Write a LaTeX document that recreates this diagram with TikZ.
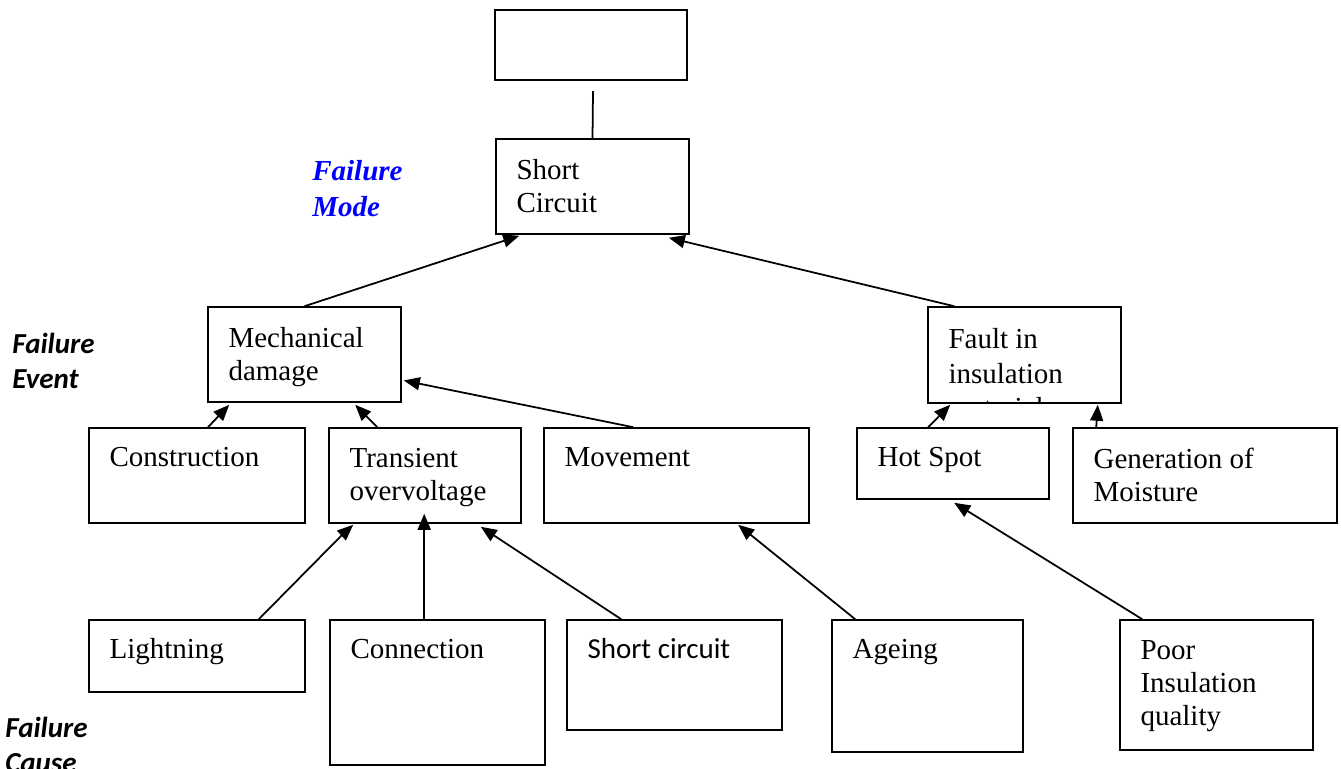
\documentclass[tikz,border=0pt]{standalone}
\usepackage{fontspec}
\setmainfont{Liberation Serif}
\newfontfamily\calibri{Carlito}
\usetikzlibrary{arrows.meta}

\tikzset{
  box/.style={draw, line width=0.9pt, inner sep=0pt},
  sz/.style 2 args={minimum width=#1*0.02cm, minimum height=#2*0.02cm},
  txt/.style={anchor=north west, inner sep=0pt, align=left, xshift=0.42cm, yshift=-0.311cm,
    execute at begin node=\strut, font=\fontsize{16.5}{19}\selectfont},
  txtm/.style={txt, yshift=-0.1cm}, % several lines sit a little higher
  arr/.style={line width=1pt, -{Triangle[length=0.32cm, width=0.26cm]}},
  level/.style={anchor=north west, inner sep=0pt, align=left, execute at begin node=\strut,
    font=\fontsize{16.5}{20}\selectfont\bfseries\itshape},
  calev/.style={level, font=\calibri\fontsize{16.5}{20}\selectfont\bfseries\itshape},
}

\begin{document}
\begin{tikzpicture}[x=0.02cm, y=-0.02cm]
  \clip (0,0) rectangle (1341,768);

  % level names
  \node[level, text=blue] (lmode) at (312,160.5) {Failure\\Mode};
  \node[calev] (levent) at (12,332.5) {Failure\\Event};
  \node[calev] (lcause) at (5,716.5) {Failure\\Cause};

  % top of the tree
  \node[box, sz={192}{70}] (top) at (591,45) {};
  \node[box, sz={193}{95}, label={[txtm]north west:Short\\Circuit}] (sc) at (592.5,186.5) {};
  \coordinate (sc-up) at (593,91);

  % failure events
  \node[box, sz={193}{95}, label={[txtm]north west:Mechanical\\damage}] (mech) at (304.5,354.5) {};
  \node[box, sz={193}{96}] (fault) at (1024.5,355) {};
  \begin{scope}
    \clip (fault.north west) rectangle (fault.south east); % third line is cut off
    \node[txtm, yshift=-0.02cm, font=\fontsize{16.5}{19.8}\selectfont] (fault-t) at (fault.north west) {Fault in\\insulation\\material};
  \end{scope}

  % second row
  \node[box, sz={216}{95}, label={[txt]north west:Construction}] (cons) at (197,475.5) {};
  \node[box, sz={192}{95}, label={[txtm]north west:Transient\\overvoltage}] (trans) at (425,475.5) {};
  \node[box, sz={265}{95}, label={[txt]north west:Movement}] (move) at (676.5,475.5) {};
  \node[box, sz={192}{71}, label={[txt]north west:Hot Spot}] (hot) at (953,463.5) {};
  \node[box, sz={264}{95}, label={[txtm]north west:Generation of\\Moisture}] (moist) at (1205,475.5) {};

  % failure causes
  \node[box, sz={216}{72}, label={[txt]north west:Lightning}] (light) at (197,656) {};
  \node[box, sz={215}{145}, label={[txt]north west:Connection}] (conn) at (437.5,692.5) {};
  \node[box, sz={215}{110}, label={[txt, font=\calibri\fontsize{16.5}{19}\selectfont]north west:Short circuit}] (shortc) at (674.5,675) {};
  \node[box, sz={191}{132}, label={[txt]north west:Ageing}] (age) at (927.5,686) {};
  \node[box, sz={193}{130}, label={[txtm]north west:Poor\\Insulation\\quality}] (poor) at (1216.5,685) {};

  % connectors
  \draw[line width=1pt] (sc.north) -- (sc-up);
  \draw[arr] (mech.north) -- ([shift={(24,1)}]sc.south west);
  \draw[arr] ([shift={(27,0)}]fault.north west) -- ([shift={(-21,3)}]sc.south east);
  \draw[arr] ([shift={(11,0)}]cons.north) -- ([shift={(22,2)}]mech.south west);
  \draw[arr] ([shift={(49,0)}]trans.north west) -- ([shift={(148,2)}]mech.south west);
  \draw[arr] ([shift={(90,0)}]move.north west) -- ([shift={(2,26)}]mech.east);
  \draw[arr] ([shift={(72,0)}]hot.north west) -- ([shift={(23,1)}]fault.south west);
  \draw[arr] ([shift={(24,0)}]moist.north west) -- ([shift={(-24,1)}]fault.south east);
  \draw[arr] ([shift={(-47,0)}]light.north east) -- ([shift={(25,1)}]trans.south west);
  \draw[arr] ([shift={(95,0)}]conn.north west) -- ([shift={(96,-10)}]trans.south west);
  \draw[arr] ([shift={(55,0)}]shortc.north west) -- ([shift={(-41,3)}]trans.south east);
  \draw[arr] ([shift={(24,0)}]age.north west) -- ([shift={(195,1)}]move.south west);
  \draw[arr] ([shift={(23,0)}]poor.north west) -- ([shift={(98,3)}]hot.south west);
\end{tikzpicture}
\end{document}
